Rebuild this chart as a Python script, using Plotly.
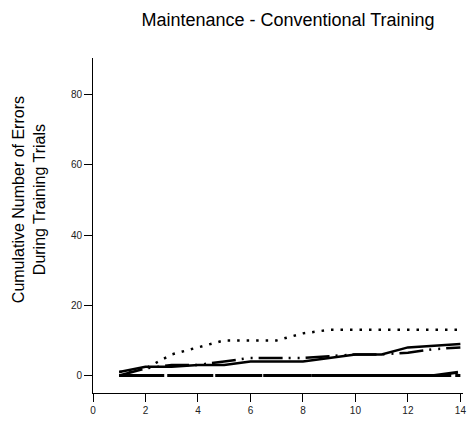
import plotly.graph_objects as go

trials = list(range(1, 15))
solid_errors = [1, 2.5, 2.5, 3, 3, 4, 4, 4, 5, 6, 6, 8, 8.5, 9]
dotted_errors = [1, 2, 6, 8, 10, 10, 10, 12, 13, 13, 13, 13, 13, 13]
dashdot_errors = [0, 2, 3, 3, 4, 5, 5, 5, 5.5, 6, 6, 6.5, 7.5, 8]
longdash_errors = [0, 0, 0, 0, 0, 0, 0, 0, 0, 0, 0, 0, 0, 1]
dash_errors = [0, 0, 0, 0, 0, 0, 0, 0, 0, 0, 0, 0, 0, 0]

x_ticks = [0, 2, 4, 6, 8, 10, 12, 14]
y_ticks = [0, 20, 40, 60, 80]

series = [
    (solid_errors, "solid", 2.5),
    (dotted_errors, "2.5px,7px", 2.5),
    (dashdot_errors, "24px,6px,2px,7px,2px,6px", 2.5),
    (longdash_errors, "45px,4px", 3),
    (dash_errors, "20px,4px", 3),
]

fig = go.Figure()
for vals, dash, w in series:
    fig.add_trace(go.Scatter(
        x=trials, y=vals, mode="lines",
        line=dict(color="black", width=w, dash=dash),
        showlegend=False,
    ))

font_family = "Liberation Sans, Arial, sans-serif"

fig.update_layout(
    width=473, height=423,
    margin=dict(l=93, r=7, t=58, b=28),
    paper_bgcolor="white", plot_bgcolor="white",
    font=dict(family=font_family, color="black"),
    title=dict(
        text="Maintenance - Conventional Training",
        x=288 / 473, xanchor="center",
        y=1 - 20 / 423, yanchor="middle",
        font=dict(size=18, family=font_family, color="black"),
    ),
    xaxis=dict(
        range=[0, 14.1], tickvals=x_ticks,
        showline=True, linecolor="black", linewidth=1,
        ticks="outside", ticklen=8, tickcolor="black",
        showgrid=False, zeroline=False,
        tickfont=dict(size=10, color="#222"),
    ),
    yaxis=dict(
        range=[-5, 90.5], tickvals=y_ticks,
        showline=True, linecolor="black", linewidth=1,
        ticks="outside", ticklen=8, tickcolor="black",
        showgrid=False, zeroline=False,
        tickfont=dict(size=10, color="#222"),
    ),
    annotations=[dict(
        text="Cumulative Number of Errors<br>During Training Trials",
        xref="paper", yref="paper",
        x=(28.5 - 93) / 373, y=(395 - 201) / 337,
        xanchor="center", yanchor="middle",
        textangle=-90, showarrow=False,
        font=dict(size=16, family=font_family, color="black"),
    )],
)

fig.write_html("out.html")
